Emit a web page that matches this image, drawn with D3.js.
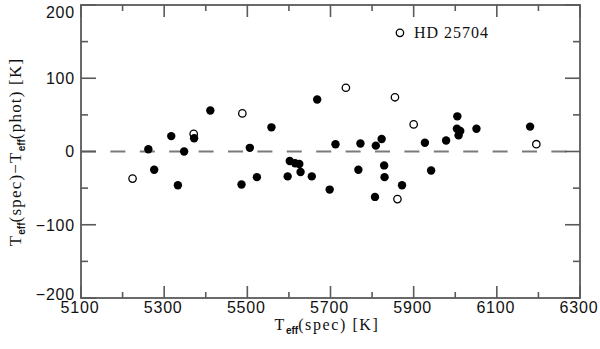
<html>
<head>
<script src="https://d3js.org/d3.v7.min.js"></script>
<style>
  body { margin: 0; background: #fff; }
  svg { display: block; }
</style>
</head>
<body>
<svg width="600" height="349"></svg>
<script>
// ---- data ----
const filledTeff = [5262, 5276, 5317, 5333, 5348, 5372, 5411, 5486, 5506, 5523,
                    5558, 5597, 5602, 5615, 5625, 5628, 5655, 5668, 5698, 5712,
                    5767, 5772, 5807, 5809, 5823, 5829, 5830, 5872, 5927, 5942,
                    5978, 6005, 6004, 6012, 6008, 6051, 6180];
const filledDiff = [3, -25, 21, -46, 0, 18, 56, -45, 5, -35,
                    33, -34, -13, -16, -17, -28, -34, 71, -52, 10,
                    -25, 11, -62, 8, 17, -19, -35, -46, 12, -26,
                    15, 48, 31, 28, 22, 31, 34];
const openTeff = [5224, 5371, 5488, 5737, 5855, 5867, 5861, 5900, 6195];
const openDiff = [-37, 24, 52, 87, 74, 162, -65, 37, 10];
const labelStar = "HD 25704";
const labelStarIndex = 5;

const xMajor = [5100, 5300, 5500, 5700, 5900, 6100, 6300];
const xMinor = [5200, 5400, 5600, 5800, 6000, 6200];
const yMajor = [-200, -100, 0, 100, 200];
const yMinor = [-150, -50, 50, 150];

// ---- layout ----
const mgLeft = 81, mgRight = 580, mgTop = 5, mgBottom = 298;
const svg = d3.select("svg");

const xs = d3.scaleLinear().domain([5100, 6300]).range([mgLeft, mgRight]);
const ys = d3.scaleLinear().domain([-200, 200]).range([mgBottom, mgTop]);

const axisColor = "#5a5a5a";
const sansFont = "'Liberation Sans', Arial, sans-serif";
const serifFont = "'Liberation Serif', 'Times New Roman', serif";

// zero line (dashed)
svg.append("line")
    .attr("x1", mgLeft).attr("x2", mgRight)
    .attr("y1", ys(0)).attr("y2", ys(0))
    .attr("stroke", "#7a7a7a")
    .attr("stroke-width", 2)
    .attr("stroke-dasharray", "15,14.4");

// ticks on all four sides
const ticks = svg.append("g").attr("stroke", axisColor).attr("stroke-width", 1.6);
function xTicks(vals, len) {
    ticks.selectAll(null).data(vals).enter().append("line")
        .attr("x1", d => xs(d)).attr("x2", d => xs(d))
        .attr("y1", mgBottom).attr("y2", mgBottom - len);
    ticks.selectAll(null).data(vals).enter().append("line")
        .attr("x1", d => xs(d)).attr("x2", d => xs(d))
        .attr("y1", mgTop).attr("y2", mgTop + len);
}
function yTicks(vals, len) {
    ticks.selectAll(null).data(vals).enter().append("line")
        .attr("x1", mgLeft).attr("x2", mgLeft + len)
        .attr("y1", d => ys(d)).attr("y2", d => ys(d));
    ticks.selectAll(null).data(vals).enter().append("line")
        .attr("x1", mgRight).attr("x2", mgRight - len)
        .attr("y1", d => ys(d)).attr("y2", d => ys(d));
}
xTicks(xMajor, 12);
xTicks(xMinor, 6);
yTicks(yMajor, 15);
yTicks(yMinor, 7);

// frame
svg.append("rect")
    .attr("x", mgLeft).attr("y", mgTop)
    .attr("width", mgRight - mgLeft).attr("height", mgBottom - mgTop)
    .attr("fill", "none")
    .attr("stroke", axisColor)
    .attr("stroke-width", 1.8);

// tick labels
svg.append("g").selectAll("text").data(xMajor).enter().append("text")
    .attr("x", d => xs(d) - 1).attr("y", 312.5)
    .attr("text-anchor", "middle")
    .style("font", "16px " + sansFont)
    .style("letter-spacing", "0.8px")
    .attr("fill", "#111")
    .text(d => d);

// end labels are kept inside the frame height
svg.append("g").selectAll("text").data(yMajor).enter().append("text")
    .attr("x", 75)
    .attr("y", d => Math.min(Math.max(ys(d), 12), 294) + 5.8)
    .attr("text-anchor", "end")
    .style("font", "16px " + sansFont)
    .style("letter-spacing", "0.8px")
    .attr("fill", "#111")
    .text(d => d < 0 ? "\u2212" + Math.abs(d) : d);

// points: open first, filled drawn over them
svg.append("g").selectAll("circle")
    .data(openTeff.map((t, i) => [t, openDiff[i]]))
    .enter().append("circle")
    .attr("cx", d => xs(d[0])).attr("cy", d => ys(d[1]))
    .attr("r", 3.7)
    .attr("fill", "#fff")
    .attr("stroke", "#000")
    .attr("stroke-width", 1.3);

svg.append("g").selectAll("circle")
    .data(filledTeff.map((t, i) => [t, filledDiff[i]]))
    .enter().append("circle")
    .attr("cx", d => xs(d[0])).attr("cy", d => ys(d[1]))
    .attr("r", 4.2)
    .attr("fill", "#000");

// star label
svg.append("text")
    .attr("x", xs(openTeff[labelStarIndex]) + 14)
    .attr("y", ys(openDiff[labelStarIndex]) + 5)
    .style("font", "16px " + serifFont)
    .style("letter-spacing", "1px")
    .attr("fill", "#111")
    .text(labelStar);

// axis titles
function teffLabel(sel, suffix) {
    sel.append("tspan").text("T");
    sel.append("tspan").attr("dy", 4)
        .style("font", "bold 10px " + sansFont)
        .style("letter-spacing", "0px")
        .text("eff");
    sel.append("tspan").attr("dy", -4).text(suffix);
}

const xt = svg.append("text")
    .attr("x", 327).attr("y", 330)
    .attr("text-anchor", "middle")
    .style("font", "16px " + serifFont)
    .style("letter-spacing", "1.6px")
    .attr("fill", "#111");
teffLabel(xt, "(spec)  [K]");

const yt = svg.append("text")
    .attr("transform", "translate(21,152) rotate(-90)")
    .attr("text-anchor", "middle")
    .style("font", "17px " + serifFont)
    .style("letter-spacing", "1.2px")
    .attr("fill", "#111");
teffLabel(yt, "(spec)\u2212T");
yt.append("tspan").attr("dy", 4)
    .style("font", "bold 10px " + sansFont)
    .style("letter-spacing", "0px")
    .text("eff");
yt.append("tspan").attr("dy", -4).text("(phot)  [K]");
</script>
</body>
</html>
